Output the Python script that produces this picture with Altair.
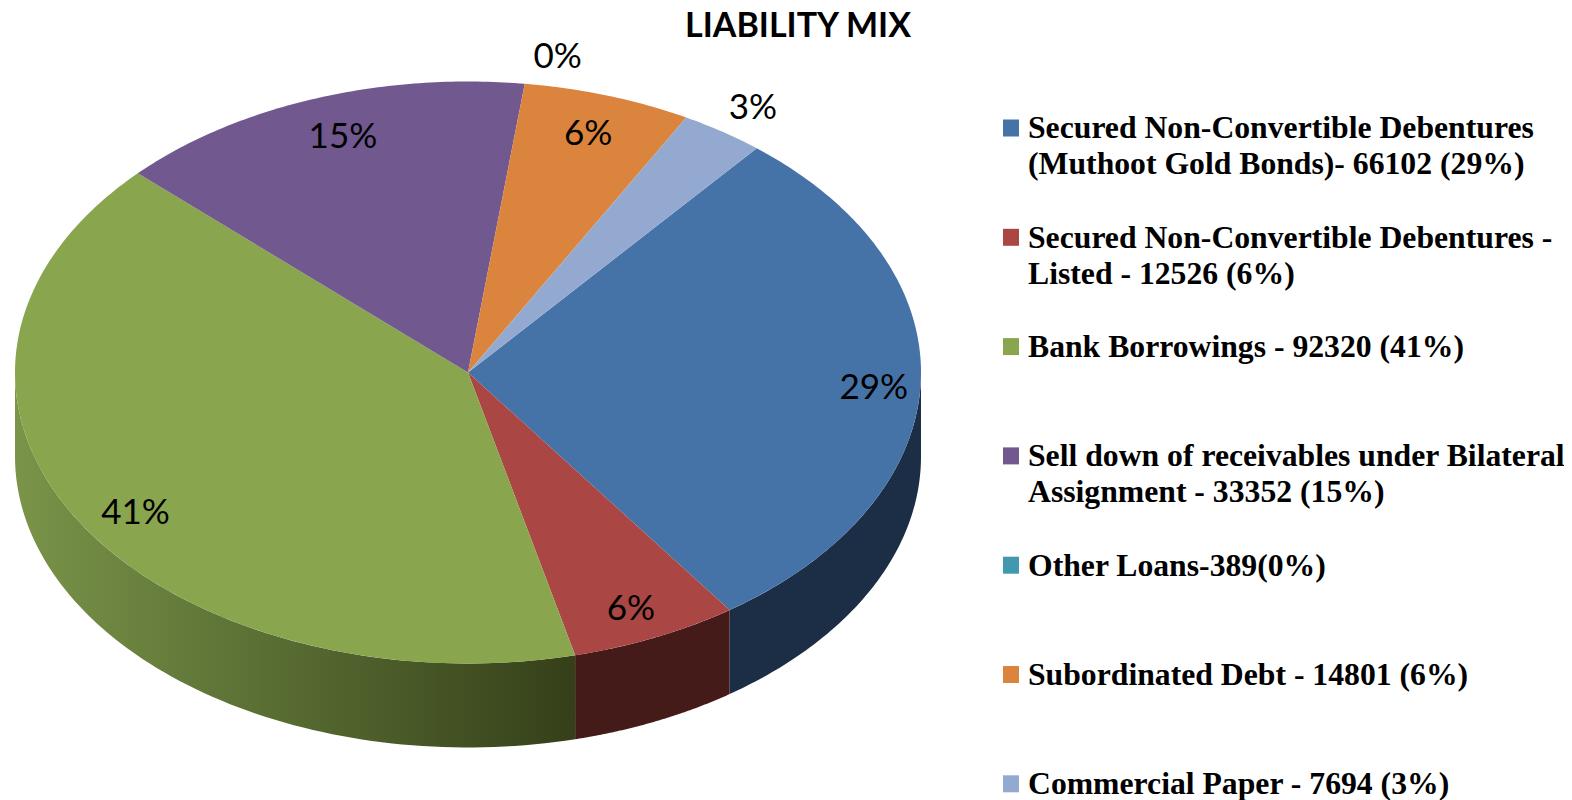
import math
import altair as alt
import pandas as pd

title_text = "LIABILITY MIX"
categories = [
    "Secured Non-Convertible Debentures (Muthoot Gold Bonds)",
    "Secured Non-Convertible Debentures - Listed",
    "Bank Borrowings",
    "Sell down of receivables under Bilateral Assignment",
    "Other Loans",
    "Subordinated Debt",
    "Commercial Paper",
]
amounts = [66102, 12526, 92320, 33352, 389, 14801, 7694]
percents = [29, 6, 41, 15, 0, 6, 3]
slice_shares = [29.2, 6.0, 40.8, 15.0, 0.0, 6.0, 3.0]
colors = ["#4673a7", "#aa4643", "#89a54e", "#71588f", "#4198af", "#db843d", "#93a9cf"]
side_colors = {0: "#1c2e45", 1: "#451b19"}
legend_lines = [
    ["Secured Non-Convertible Debentures", "(Muthoot Gold Bonds)- 66102 (29%)"],
    ["Secured Non-Convertible Debentures -", "Listed - 12526 (6%)"],
    ["Bank Borrowings - 92320 (41%)"],
    ["Sell down of receivables under Bilateral", "Assignment - 33352 (15%)"],
    ["Other Loans-389(0%)"],
    ["Subordinated Debt - 14801 (6%)"],
    ["Commercial Paper - 7694 (3%)"],
]
label_radius = [0.897, 0.885, 0.876, 0.861, 1.108, 0.867, 1.11]
label_nudge_deg = [0.9, 0.5, -2.85, 1.1, 3.1, -0.2, 0.3]

CX, CY, RX, RY, DEPTH = 468.0, 372.5, 453.0, 291.0, 84.0
START = 39.6
total = sum(slice_shares)

X = alt.X("x:Q", axis=None, scale=alt.Scale(domain=[8, 1564], nice=False, zero=False))
Y = alt.Y("y:Q", axis=None, scale=alt.Scale(domain=[800, 8], nice=False, zero=False))


def pt(deg, drop=0.0, r=1.0):
    t = math.radians(deg)
    return CX + r * RX * math.sin(t), CY - r * RY * math.cos(t) + drop


def sweep(a0, a1, n):
    return [a0 + (a1 - a0) * i / n for i in range(n + 1)]


def polygon(points, fill):
    df = pd.DataFrame(
        [{"x": p[0], "y": p[1], "o": i} for i, p in enumerate(points)]
    )
    return (
        alt.Chart(df)
        .mark_line(fill=fill, stroke=None, strokeWidth=0, interpolate="linear-closed")
        .encode(x=X, y=Y, order="o:Q")
    )


spans = []
a = START
for v in slice_shares:
    b = a + 360.0 * v / total
    spans.append((a, b))
    a = b

green_side = alt.Gradient(
    gradient="linear",
    x1=0, y1=0, x2=1, y2=0,
    stops=[
        alt.GradientStop(offset=0, color="#7a9449"),
        alt.GradientStop(offset=0.5, color="#566a31"),
        alt.GradientStop(offset=1, color="#353f19"),
    ],
)

layers = []
# outer wall, only where the rim faces the viewer
for i, (a0, a1) in enumerate(spans):
    lo, hi = max(a0, 90.0), min(a1, 270.0)
    if hi <= lo:
        continue
    arc = sweep(lo, hi, 80)
    pts = [pt(d) for d in arc] + [pt(d, DEPTH) for d in reversed(arc)]
    layers.append(polygon(pts, green_side if i == 2 else side_colors.get(i, colors[i])))

# top face
for (a0, a1), c in zip(spans, colors):
    if a1 <= a0:
        continue
    n = max(4, int((a1 - a0) * 1.5))
    pts = [(CX, CY)] + [pt(d) for d in sweep(a0, a1, n)]
    layers.append(polygon(pts, c))

# percentage labels
rows = []
for (a0, a1), p, r, nudge in zip(spans, percents, label_radius, label_nudge_deg):
    x, y = pt((a0 + a1) / 2 + nudge, 0.0, r)
    rows.append({"x": x, "y": y + 1.5, "t": f"{p}%"})
layers.append(
    alt.Chart(pd.DataFrame(rows))
    .mark_text(font="Lato", fontSize=35, color="#000000", align="center", baseline="middle")
    .encode(x=X, y=Y, text="t:N")
)

# title
layers.append(
    alt.Chart(pd.DataFrame([{"x": 798, "y": 27, "t": title_text}]))
    .mark_text(font="Lato", fontSize=34, fontWeight="bold", color="#000000", align="center", baseline="middle")
    .encode(x=X, y=Y, text="t:N")
)

# legend
ROW0, ROWGAP, LINEGAP = 128.0, 109.3, 36.0
swatches = []
lines = []
for i, (cat, c, ls) in enumerate(zip(categories, colors, legend_lines)):
    yc = ROW0 + ROWGAP * i
    swatches.append({"x": 1003, "x2": 1019, "y": yc - 8.5, "y2": yc + 8.5, "c": c, "cat": cat})
    for j, s in enumerate(ls):
        lines.append({"x": 1028, "y": yc + 0.3 + LINEGAP * j, "t": s})
layers.append(
    alt.Chart(pd.DataFrame(swatches))
    .mark_rect()
    .encode(x=X, x2="x2:Q", y=Y, y2="y2:Q", color=alt.Color("c:N", scale=None, legend=None))
)
layers.append(
    alt.Chart(pd.DataFrame(lines))
    .mark_text(font="Liberation Serif", fontSize=31.7, fontWeight="bold", color="#000000", align="left", baseline="middle")
    .encode(x=X, y=Y, text="t:N")
)

chart = (
    alt.layer(*layers)
    .properties(
        width=1556, height=792, padding=0, background="#ffffff",
        autosize=alt.AutoSizeParams(type="none"),
    )
    .configure_view(stroke=None)
)
chart.save("out.html", embed_options={"renderer": "svg", "actions": False})
